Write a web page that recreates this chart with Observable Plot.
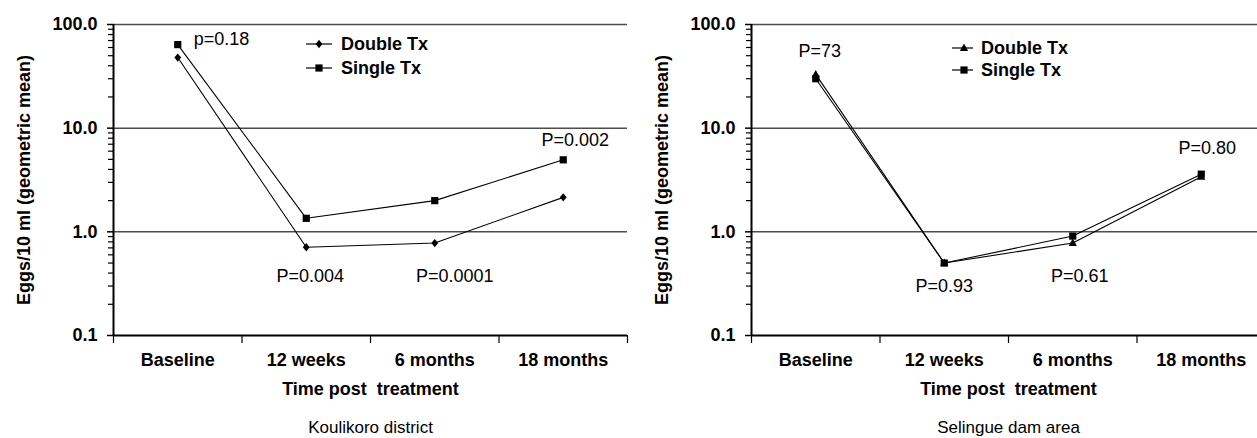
<!DOCTYPE html>
<html><head><meta charset="utf-8">
<script src="https://cdn.jsdelivr.net/npm/d3@7"></script>
<script src="https://cdn.jsdelivr.net/npm/@observablehq/plot@0.6"></script>
<style>
html,body{margin:0;padding:0;background:#fff;overflow:hidden;width:1257px;height:438px}
#wrap{position:relative;width:1257px;height:438px;overflow:hidden}
.panel{position:absolute;top:0;width:640px;height:438px}
.panel svg{max-width:none !important;width:640px;height:438px}
.panel svg text{font-family:"Liberation Sans",Arial,Helvetica,sans-serif}
</style></head><body><div id="wrap"></div>
<script>
// ---- data ----
const categories = ["Baseline", "12 weeks", "6 months", "18 months"];
const seriesNames = ["Double Tx", "Single Tx"];
const koulikoroDouble = [48, 0.71, 0.78, 2.15];
const koulikoroSingle = [64, 1.35, 2.0, 4.95];
const koulikoroP = ["p=0.18", "P=0.004", "P=0.0001", "P=0.002"];
const selingueDouble = [33, 0.50, 0.78, 3.4];
const selingueSingle = [30, 0.50, 0.91, 3.6];
const selingueP = ["P=73", "P=0.93", "P=0.61", "P=0.80"];
const yTicks = [0.1, 1, 10, 100];
const yMinorTicks = [0.2,0.3,0.4,0.5,0.6,0.7,0.8,0.9,2,3,4,5,6,7,8,9,20,30,40,50,60,70,80,90];
const gridValues = [1, 10, 100];
const yLabel = "Eggs/10 ml (geometric mean)";
const xLabel = "Time post\u00a0 treatment";
const captions = ["Koulikoro district", "Selingue dam area"];

// ---- symbols ----
const sym = {
  diamond: {draw(ctx, size){ const r = Math.sqrt(size/Math.PI); ctx.moveTo(0,-r*1.15); ctx.lineTo(r*0.95,0); ctx.lineTo(0,r*1.15); ctx.lineTo(-r*0.95,0); ctx.closePath(); }},
  square: {draw(ctx, size){ const r = Math.sqrt(size/Math.PI); ctx.rect(-r,-r,2*r,2*r); }},
  triangle: {draw(ctx, size){ const r = Math.sqrt(size/Math.PI); ctx.moveTo(0,-r*1.25); ctx.lineTo(r*1.15,r*0.85); ctx.lineTo(-r*1.15,r*0.85); ctx.closePath(); }}
};
const FONT = '"Liberation Sans",Arial,Helvetica,sans-serif';
const W = 640, H = 438, ML = 113, MR = 13, MT = 24, MB = 103;

function panel(cfg) {
  const rows = [];
  categories.forEach((c, i) => {
    rows.push({series: seriesNames[0], i, value: cfg.double[i]});
    rows.push({series: seriesNames[1], i, value: cfg.single[i]});
  });
  const xi = d => d.i + 0.5;
  const pMarks = cfg.pLabels.map((t, i) => {
    const a = cfg.pPlace[i];
    const row = rows.find(r => r.i === i && r.series === a.s);
    return Plot.text([row], {x: xi, y: "value", text: () => t, dx: a.dx, dy: a.dy,
      textAnchor: a.anchor || "middle", lineAnchor: "middle", fontSize: 18, fill: "#000"});
  });
  const legendMark = () => {
    const g = d3.create("svg:g");
    const L = cfg.legend;
    [[seriesNames[0], cfg.doubleSym], [seriesNames[1], sym.square]].forEach(([name, s], k) => {
      const y = L.y[k];
      g.append("line").attr("x1", L.x1).attr("x2", L.x2).attr("y1", y).attr("y2", y).attr("stroke", "#000").attr("stroke-width", 1.2);
      const p = d3.path(); s.draw(p, Math.PI * 3.6 * 3.6);
      g.append("path").attr("d", p.toString()).attr("transform", `translate(${L.xs},${y})`).attr("fill", "#000");
      g.append("text").attr("x", L.xt).attr("y", y).attr("dy", "0.36em").attr("font-weight", "bold")
        .attr("text-anchor", "start").style("text-anchor", "start")
        .attr("font-size", 18).attr("font-family", FONT).attr("fill", "#000").text(name);
    });
    return g.node();
  };
  return Plot.plot({
    width: W, height: H, marginLeft: ML, marginRight: MR, marginTop: MT, marginBottom: MB,
    style: {fontFamily: FONT, fontSize: "18px", color: "#000", background: "transparent", overflow: "visible"},
    x: {domain: [0, categories.length]},
    y: {type: "log", domain: [0.1, 100]},
    marks: [
      Plot.ruleY(gridValues, {stroke: "#4d4d4d", strokeWidth: 1.5}),
      Plot.axisY(yMinorTicks, {tickSize: 5, tickFormat: () => "", label: null, strokeWidth: 1.2}),
      Plot.axisY(yTicks, {tickSize: 6, tickPadding: 10, tickFormat: d => d.toFixed(1), label: null,
        fontWeight: "bold", fontSize: 18, strokeWidth: 1.5}),
      Plot.axisX([0, 1, 2, 3, 4], {tickSize: 8, tickFormat: () => "", label: null, strokeWidth: 1.2}),
      Plot.ruleX([0], {stroke: "#000", strokeWidth: 2}),
      Plot.ruleY([0.1], {stroke: "#000", strokeWidth: 2}),
      Plot.text(categories, {x: (d, i) => i + 0.5, frameAnchor: "bottom", lineAnchor: "middle", dy: 25, fontWeight: "bold", fontSize: 18}),
      Plot.text([xLabel], {frameAnchor: "bottom", lineAnchor: "middle", dy: 54, fontWeight: "bold", fontSize: 18}),
      Plot.text([cfg.caption], {frameAnchor: "bottom", lineAnchor: "middle", dy: 92, fontSize: 17}),
      Plot.text([yLabel], {frameAnchor: "left", textAnchor: "middle", lineAnchor: "middle", dx: -89, rotate: -90, fontWeight: "bold", fontSize: 18}),
      Plot.line(rows, {x: xi, y: "value", z: "series", stroke: "#000", strokeWidth: 1.1}),
      Plot.dot(rows.filter(r => r.series === seriesNames[0]), {x: xi, y: "value", symbol: cfg.doubleSym, r: 3.6, fill: "#000", stroke: "none"}),
      Plot.dot(rows.filter(r => r.series === seriesNames[1]), {x: xi, y: "value", symbol: sym.square, r: 3.6, fill: "#000", stroke: "none"}),
      ...pMarks,
      legendMark
    ]
  });
}

const wrap = document.getElementById("wrap");
const left = panel({
  double: koulikoroDouble, single: koulikoroSingle, doubleSym: sym.diamond, caption: captions[0],
  pLabels: koulikoroP,
  pPlace: [
    {s: "Single Tx", dx: 16, dy: -5, anchor: "start"},
    {s: "Double Tx", dx: 4, dy: 29},
    {s: "Double Tx", dx: 20, dy: 33},
    {s: "Single Tx", dx: 12, dy: -20}
  ],
  legend: {x1: 306, x2: 332, xs: 319, xt: 341, y: [44, 68]}
});
const right = panel({
  double: selingueDouble, single: selingueSingle, doubleSym: sym.triangle, caption: captions[1],
  pLabels: selingueP,
  pPlace: [
    {s: "Double Tx", dx: 4, dy: -23},
    {s: "Double Tx", dx: 0, dy: 23},
    {s: "Double Tx", dx: 7, dy: 33},
    {s: "Single Tx", dx: 6, dy: -26}
  ],
  legend: {x1: 314, x2: 335, xs: 326, xt: 343, y: [48, 70]}
});
const d1 = document.createElement("div"); d1.className = "panel"; d1.style.left = "0px"; d1.appendChild(left);
const d2 = document.createElement("div"); d2.className = "panel"; d2.style.left = "638px"; d2.appendChild(right);
wrap.appendChild(d1); wrap.appendChild(d2);
</script></body></html>
